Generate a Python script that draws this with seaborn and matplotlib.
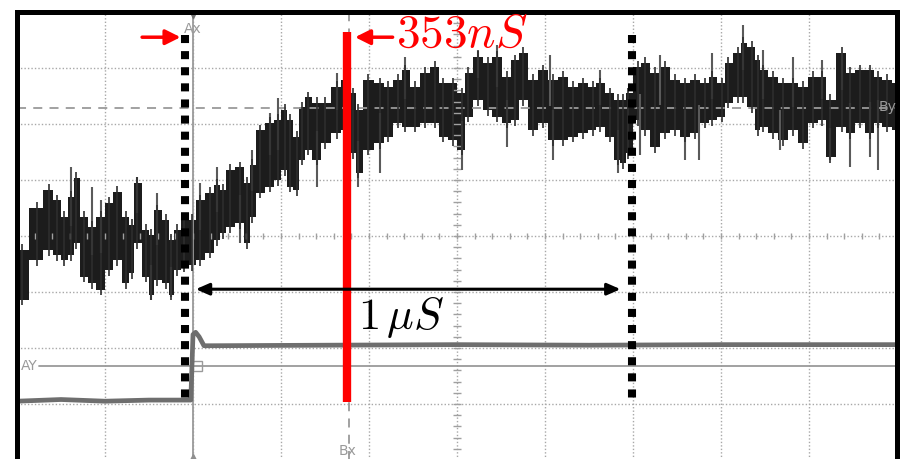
import numpy as np
import matplotlib
matplotlib.use("Agg")
import matplotlib.pyplot as plt
import seaborn as sns

# ---------------- data (time in ns, amplitude in screen divisions) ----------------
t_ns = [-400, -389, -355, -327, -309, -293, -277, -266, -248, -230, -209, -191, -173, -152,
        -139, -127, -107, -95, -82, -61, -50, -36, -20, -2, 16, 39, 55, 68, 84, 107, 123,
        134, 152, 175, 193, 209, 220, 236, 248, 261, 282, 300, 327, 345, 364, 375, 398,
        425, 443, 466, 482, 505, 527, 550, 568, 591, 611, 625, 648, 670, 691, 714, 732,
        750, 773, 795, 818, 841, 864, 886, 909, 925, 948, 966, 977, 989, 1011, 1027, 1050,
        1073, 1095, 1118, 1141, 1164, 1180, 1202, 1216, 1239, 1250, 1270, 1284, 1295, 1318,
        1341, 1364, 1386, 1409, 1430, 1448, 1475, 1493, 1516, 1539, 1557, 1577, 1600]
ch1_upper = [0.14, -0.25, 0.50, 0.82, 0.64, 0.34, 0.70, 1.04, 0.34, 0.16, 0.34, 0.59, 0.79, 0.34,
             0.20, 0.95, 0.11, 0.02, 0.46, 0.29, -0.07, 0.11, 0.29, 0.29, 0.64, 0.77, 0.91, 0.82,
             1.18, 1.23, 0.95, 1.27, 1.89, 2.02, 2.07, 2.25, 2.07, 1.77, 2.30, 2.48, 2.38, 2.38,
             2.66, 2.79, 2.55, 2.25, 2.79, 2.73, 2.66, 2.79, 2.96, 2.66, 2.91, 3.02, 2.73, 2.73,
             2.55, 2.91, 3.20, 3.09, 3.20, 2.84, 3.14, 3.27, 2.79, 2.96, 2.79, 2.84, 2.66, 2.73,
             2.66, 2.73, 2.55, 2.43, 2.43, 2.55, 3.02, 3.09, 2.91, 3.02, 2.79, 2.73, 2.79, 2.73,
             2.84, 2.73, 3.09, 3.27, 3.45, 3.38, 3.14, 2.96, 2.84, 2.73, 2.73, 2.66, 2.84, 2.84,
             2.43, 3.27, 2.91, 2.96, 2.96, 2.84, 2.79, 2.73]
ch1_lower = [-0.84, -1.14, -0.43, -0.25, -0.34, -0.43, -0.34, -0.13, -0.73, -0.84, -0.96, -0.61,
             -0.43, -0.84, -0.66, -0.13, -0.73, -1.05, -0.79, -0.84, -1.05, -0.61, -0.55, -0.52,
             -0.43, -0.30, -0.07, 0.05, 0.16, 0.23, -0.13, 0.34, 0.77, 0.88, 1.00, 1.18, 0.88,
             0.82, 1.36, 1.54, 1.36, 1.66, 1.84, 1.89, 1.48, 1.13, 1.54, 1.66, 1.77, 2.02, 1.95,
             1.95, 2.02, 2.02, 1.77, 1.71, 1.54, 2.13, 2.43, 2.25, 2.13, 2.02, 2.07, 2.43, 1.89,
             2.02, 1.71, 1.71, 1.77, 1.84, 1.89, 1.95, 1.77, 1.36, 1.30, 1.48, 2.07, 1.89, 1.59,
             1.84, 1.89, 1.77, 1.84, 2.02, 2.07, 2.13, 2.38, 2.48, 2.48, 2.30, 1.89, 1.95, 1.84,
             1.71, 1.89, 1.66, 2.02, 2.07, 1.41, 1.95, 1.84, 2.02, 1.84, 2.02, 1.95, 1.89]

spike_t = [-277, -230, -209, -127, -82, 16, 55, 134, 175, 193, 327, 482, 648, 691, 811, 925,
           1061, 1180, 1250, 1295, 1364, 1430, 1475,
           -400, -95, -50, 107, 282, 375, 425, 611, 714, 818, 966, 1016, 1118, 1150, 1334,
           1448, 1493, 1539, 1557]
spike_v = [1.23, 0.88, 0.64, 1.05, 0.77, 0.95, 1.23, 1.54, 2.20, 2.46, 2.91, 3.20, 3.32, 3.41,
           3.23, 2.96, 3.23, 3.27, 3.77, 3.32, 3.20, 3.14, 3.27,
           -1.32, -1.14, -1.09, -0.13, 0.88, 0.88, 1.13, 1.18, 1.59, 1.36, 1.13, 1.45, 1.36,
           1.36, 1.54, 1.36, 1.23, 1.41, 1.18]

ch2_t = [-400, -300, -200, -100, -5, 0, 6, 14, 25, 300, 600, 900, 1200, 1600]
ch2_v = [-2.95, -2.92, -2.95, -2.93, -2.93, -1.76, -1.72, -1.80, -1.96, -1.95, -1.94, -1.95, -1.94, -1.94]

cursor_ax_t = 0
cursor_bx_t = 355
cursor_ay_v = -2.32
cursor_by_v = 2.29
marker_a_t = -18
marker_b_t = 998
red_t = 350
span_label = r"$1\,\mu S$"
delay_label = r"$353nS$"

# ---------------- figure ----------------
sns.set_style("white")
plt.rcParams["mathtext.fontset"] = "cm"
plt.rcParams["font.family"] = ["DejaVu Sans"]

fig = plt.figure(figsize=(9.04, 4.59), dpi=100)
ax = fig.add_axes([17 / 904, -1 / 459, 880 / 904, 448 / 459])
ax.set_xlim(-400, 1600)
ax.set_ylim(-4, 4)

# graticule
ax.set_xticks(np.arange(-400, 1601, 200))
ax.set_yticks(np.arange(-4, 5, 1))
ax.grid(True, linestyle=(0, (1, 1.5)), color="#a8a8a8", lw=1.0)
ax.tick_params(length=0, labelbottom=False, labelleft=False)
for s in ["left", "top", "right"]:
    ax.spines[s].set_linewidth(3.6)
    ax.spines[s].set_color("black")
ax.spines["bottom"].set_visible(False)

# center tick marks
ax.plot(np.arange(-400, 1601, 40), np.zeros(51), ls="none", marker="|", ms=5, color="#a0a0a0", mew=1)
ax.plot(np.full(41, 600), np.arange(-4, 4.01, 0.2), ls="none", marker="_", ms=6, color="#a0a0a0", mew=1)

# cursors
ax.axvline(cursor_ax_t, color="#9a9a9a", lw=1.3)
ax.axvline(cursor_bx_t, color="#9a9a9a", lw=1.3, ls=(0, (5, 4)))
ax.axhline(cursor_by_v, color="#9a9a9a", lw=1.3, ls=(0, (5, 4)))
ax.plot([-350, 1600], [cursor_ay_v, cursor_ay_v], color="#9a9a9a", lw=1.3)
ax.plot([9], [cursor_ay_v], marker="s", ms=7, mfc="none", mec="#9a9a9a", mew=1)
ax.plot([0], [3.97], marker="v", ms=6, color="#707070")
ax.plot([0], [-3.97], marker="^", ms=6, color="#909090")
ax.text(0, 3.7, "Ax", color="#9a9a9a", fontsize=10, ha="center", va="center")
ax.text(cursor_bx_t - 4, -3.84, "Bx", color="#9a9a9a", fontsize=10, ha="center", va="center")
ax.text(1598, cursor_by_v + 0.02, "By", color="#9a9a9a", fontsize=10, ha="right", va="center")
ax.text(-392, cursor_ay_v, "AY", color="#9a9a9a", fontsize=10, ha="left", va="center")

# channel 2
sns.lineplot(x=ch2_t, y=ch2_v, ax=ax, color="#6e6e6e", lw=3.4, estimator=None, sort=False)

# channel 1: noisy envelope + spikes
t_arr = np.array(t_ns, float)
up = np.array(ch1_upper)
lo = np.array(ch1_lower)
mid = (up + lo) / 2
base = np.interp(spike_t, t_arr, mid)
ax.vlines(spike_t, base, spike_v, color="#5a5a5a", lw=1.5)
ax.fill_between(t_arr, lo, up, step="mid", color="#1c1c1c", lw=0)
ax.vlines(t_arr, lo - 0.1, up + 0.1, color="#2e2e2e", lw=1.2)

# annotations
ax.plot([marker_a_t, marker_a_t], [3.59, -2.96], color="black", lw=5.8, ls=(0, (1, 1)))
ax.plot([marker_b_t, marker_b_t], [3.59, -2.96], color="black", lw=5.8, ls=(0, (1, 1)))
ax.plot([red_t, red_t], [3.65, -2.96], color="#ff0000", lw=6, solid_capstyle="butt")
ax.annotate("", xy=(-22, 3.55), xytext=(-122, 3.55),
            arrowprops=dict(arrowstyle="-|>,head_length=0.9,head_width=0.45", color="#ff0000", lw=2.5))
ax.annotate("", xy=(362, 3.55), xytext=(460, 3.55),
            arrowprops=dict(arrowstyle="-|>,head_length=0.9,head_width=0.45", color="#ff0000", lw=2.5))
ax.text(462, 3.6, delay_label, color="#ff0000", fontsize=34, ha="left", va="center")
ax.annotate("", xy=(0, -0.95), xytext=(978, -0.95),
            arrowprops=dict(arrowstyle="<|-|>,head_length=0.8,head_width=0.35", color="black", lw=2.2))
ax.text(374, -1.45, span_label, color="black", fontsize=32, ha="left", va="center")

fig.savefig("out.png", dpi=100)
